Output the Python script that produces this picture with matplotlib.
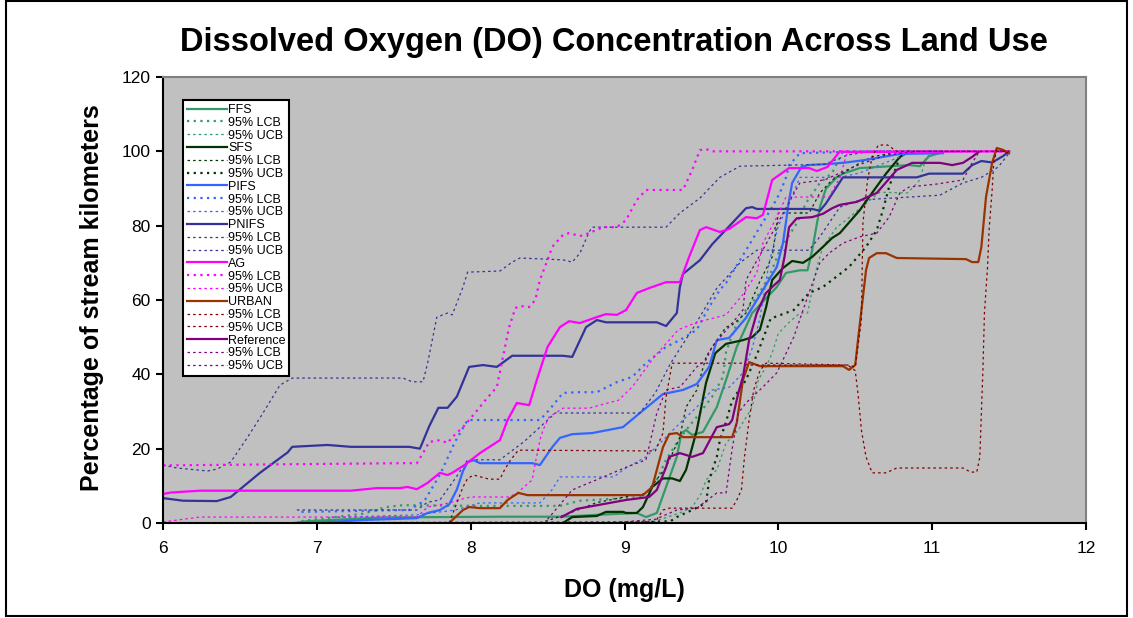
#!/usr/bin/env python3
# -*- coding: utf-8 -*-
"""
Dissolved oxygen cumulative distribution by land use, with 95% bounds.
"""

import matplotlib
matplotlib.use('Agg')
import matplotlib.pyplot as plt
from matplotlib.patches import Rectangle

plt.rcParams['font.family'] = ['Liberation Sans', 'DejaVu Sans']

# ---- data: DO (mg/L) vs percentage of stream kilometers ----
FFS_X = [6.85, 6.94, 7.43, 8.19, 8.60, 8.82, 9.08, 9.14, 9.21, 9.27, 9.34, 9.37, 9.40, 9.44, 9.51, 9.60, 9.66,
         9.73, 9.83, 9.99, 10.05, 10.14, 10.19, 10.22, 10.27, 10.31, 10.38, 10.42, 10.53, 10.85, 10.92, 10.98, 11.07]
FFS_Y = [0, 0.5, 1.5, 1.7, 1.7, 2.2, 2.7, 1.6, 2.7, 9.7, 17.8, 24.2, 25, 23.7, 24.5, 31.2, 38.5,
         47.4, 56.5, 63.5, 67.3, 68, 68, 73.4, 85, 90, 93, 94, 95.5, 96.3, 96, 98.7, 99.8]
FFS_LCB_X = [6.9, 7.3, 7.45, 7.56, 8.06, 8.58, 8.71, 9.14, 9.21, 9.27, 9.34, 9.40, 9.49, 9.57, 9.64, 9.66, 9.73,
             9.79, 9.86, 9.94, 10.01, 10.12, 10.18, 10.27, 10.35, 10.42, 11.07]
FFS_LCB_Y = [0.5, 2.5, 4.3, 4.8, 4.6, 4.6, 6.0, 7.0, 11.6, 17, 21.5, 25, 29.6, 34, 39.3, 46, 53.8,
             57.3, 60.8, 66.2, 73.4, 80.7, 86.1, 91.5, 94.2, 100, 100]
FFS_UCB_X = [8.60, 9.20, 9.36, 9.44, 9.50, 9.53, 9.60, 9.66, 9.74, 9.83, 9.87, 9.92, 9.96, 10.00, 10.07, 10.14,
             10.19, 10.22, 10.25, 10.29, 10.38, 10.44, 10.60, 10.66, 10.84, 10.92, 10.96, 11.05]
FFS_UCB_Y = [0, 0.5, 2.7, 4.3, 8, 11.6, 14.3, 21.5, 25, 31.2, 38.5, 42, 45.7, 51, 54, 56.5,
             56.5, 62.7, 68.9, 74.3, 79.6, 81.5, 87, 89, 88.8, 92.3, 98.5, 100]

SFS_X = [8.60, 8.66, 8.82, 8.88, 8.99, 9.01, 9.08, 9.12, 9.18, 9.25, 9.31, 9.36, 9.40, 9.47, 9.53, 9.59, 9.66,
         9.77, 9.83, 9.88, 9.92, 9.96, 10.03, 10.09, 10.16, 10.22, 10.29, 10.35, 10.40, 10.53, 10.59, 10.70,
         10.79, 10.85]
SFS_Y = [0, 1.6, 1.9, 3, 3, 2.7, 2.7, 4.3, 9.7, 12, 12, 11.3, 14.3, 25, 37.7, 45.7, 48.2,
         49.2, 50, 52, 58, 65.4, 68.6, 70.5, 70, 71.6, 74.3, 76.7, 78, 84.2, 87.7, 94,
         98.5, 100]
SFS_LCB_X = [8.45, 8.60, 8.82, 9.00, 9.14, 9.27, 9.36, 9.40, 9.47, 9.53, 9.57, 9.66, 9.70, 9.79, 9.88, 9.96,
             10.00, 10.20, 10.27, 10.35, 10.53, 10.61, 10.79]
SFS_LCB_Y = [0, 2, 5.5, 7, 8, 15, 23.1, 31.2, 35.8, 44.7, 47.4, 52.7, 53.3, 56.5, 65, 71.6,
             83.4, 83.4, 88.8, 92.3, 96.9, 98.5, 100]
SFS_UCB_X = [9.00, 9.30, 9.34, 9.44, 9.53, 9.55, 9.60, 9.62, 9.66, 9.70, 9.79, 9.86, 9.95, 10.10, 10.20, 10.29,
             10.35, 10.46, 10.57, 10.64, 10.68, 10.72, 10.79, 10.85]
SFS_UCB_Y = [0, 0.5, 1.6, 3.5, 5.4, 11.6, 17.8, 22.3, 27.2, 33, 38.5, 45.2, 55, 57.3, 61.9, 63.5,
             65.4, 68.9, 74.3, 78.8, 84.2, 90.4, 98.5, 100]

PIFS_X = [6.9, 7.1, 7.3, 7.65, 7.72, 7.80, 7.86, 7.91, 7.95, 7.98, 8.02, 8.06, 8.40, 8.45, 8.53, 8.58, 8.66,
          8.79, 8.99, 9.10, 9.25, 9.38, 9.47, 9.55, 9.60, 9.68, 9.79, 9.90, 9.99, 10.03, 10.07, 10.09, 10.15,
          10.19, 10.33, 10.44, 10.57, 10.79, 11.07]
PIFS_Y = [0, 0.3, 0.8, 1.3, 2.7, 3.5, 5.0, 9.0, 14.0, 16.4, 16.9, 16.1, 16.1, 15.6, 20.4, 22.9, 23.9,
          24.2, 25.8, 29.6, 34.7, 35.8, 37.4, 42, 49.2, 49.8, 55.2, 62.7, 68.9, 75.3, 86.9, 91.5, 95.8,
          96.3, 96.6, 97, 97.7, 99.3, 99.5]
PIFS_LCB_X = [6.9, 7.6, 7.7, 7.8, 7.9, 7.98, 8.45, 8.51, 8.60, 8.71, 8.82, 8.95, 9.05, 9.14, 9.27, 9.36, 9.47,
              9.55, 9.62, 9.66, 9.79, 9.88, 9.96, 10.01, 10.05, 10.07, 10.14, 10.6, 11.07]
PIFS_LCB_Y = [3, 3.5, 6, 13, 22, 27.7, 27.7, 30.4, 35, 35.2, 35.2, 37.9, 39.3, 43, 47.4, 49.2, 52,
              58.1, 62.7, 64.6, 73.4, 79.6, 85, 88.8, 93, 96.3, 99.5, 100, 100]
PIFS_UCB_X = [7.1, 7.65, 7.9, 8.06, 8.45, 8.53, 8.58, 8.93, 9.01, 9.14, 9.27, 9.38, 9.47, 9.57, 9.68, 9.77,
              9.83, 9.88, 9.94, 10.00, 10.05, 10.14, 10.40, 10.53, 10.70, 10.85, 11.07]
PIFS_UCB_Y = [1.5, 2.2, 3.5, 5.4, 5.4, 9, 12.4, 12.4, 14.8, 17.8, 23.1, 27.7, 31.2, 35.8, 36.5, 40.4,
              47, 55, 70, 80, 84.2, 93, 93, 94.2, 97, 99.5, 100]

PNIFS_X = [6.0, 6.13, 6.35, 6.44, 6.63, 6.81, 6.84, 7.07, 7.22, 7.60, 7.67, 7.73, 7.79, 7.85, 7.91, 7.99,
           8.08, 8.17, 8.27, 8.60, 8.66, 8.75, 8.82, 8.88, 9.21, 9.27, 9.34, 9.36, 9.38, 9.49, 9.57, 9.70,
           9.79, 9.83, 9.86, 10.22, 10.27, 10.31, 10.42, 10.90, 10.98, 11.20, 11.26, 11.32, 11.39, 11.46, 11.50]
PNIFS_Y = [6.7, 6.0, 5.9, 7.0, 13.5, 19, 20.5, 21, 20.5, 20.5, 20, 26, 31, 31, 34, 42,
           42.5, 42, 45, 45, 44.7, 52.7, 54.6, 54, 54, 53, 56.5, 63.5, 67, 70.7, 75, 80.7,
           84.7, 85, 84.5, 84.5, 84, 86, 93, 93, 94, 94, 96.3, 97.4, 97, 98.7, 100]
PNIFS_LCB_X = [6.0, 6.09, 6.29, 6.35, 6.44, 6.55, 6.65, 6.76, 6.84, 7.56, 7.62, 7.69, 7.72, 7.78, 7.85, 7.88,
               7.95, 7.98, 8.19, 8.27, 8.32, 8.60, 8.66, 8.71, 8.77, 8.79, 9.27, 9.36, 9.49, 9.62, 9.75,
               10.30, 10.45, 10.60, 11.50]
PNIFS_LCB_Y = [15.6, 14.8, 14, 14.5, 16.4, 23.1, 29.6, 37.1, 39, 39, 38, 38, 43, 55.4, 56.5, 56,
               63.5, 67.5, 67.8, 70.2, 71.3, 70.8, 70.2, 72.6, 78.3, 79.6, 79.6, 83.4, 87.4, 93, 96,
               96.5, 99, 100, 100]
PNIFS_UCB_X = [6.87, 7.65, 7.72, 7.80, 7.90, 7.98, 8.19, 8.35, 8.55, 9.10, 9.20, 9.30, 9.45, 9.60, 9.75,
               9.86, 10.20, 10.27, 10.40, 10.53, 11.05, 11.20, 11.32, 11.43, 11.50]
PNIFS_UCB_Y = [3.5, 3.5, 5.6, 6.2, 12, 17, 17, 22, 29.6, 29.6, 35, 43, 52.7, 63.2, 70,
               73.4, 73.4, 77, 85, 86.9, 88.2, 91.5, 93, 95.8, 99.5]

AG_X = [6.0, 6.05, 6.24, 7.22, 7.39, 7.54, 7.59, 7.65, 7.72, 7.80, 7.85, 7.88, 7.96, 8.06, 8.19, 8.24,
        8.30, 8.38, 8.43, 8.50, 8.58, 8.64, 8.71, 8.82, 8.88, 8.95, 9.01, 9.08, 9.16, 9.27, 9.36, 9.42,
        9.49, 9.53, 9.62, 9.68, 9.79, 9.86, 9.90, 9.96, 10.07, 10.20, 10.25, 10.32, 10.40, 10.46, 11.50]
AG_Y = [7.8, 8.2, 8.7, 8.7, 9.4, 9.4, 9.7, 9.1, 10.8, 13.5, 12.9, 13.5, 15.6, 18.8, 22.3, 27.7,
        32.3, 31.7, 38.5, 47.4, 52.7, 54.3, 53.8, 55.4, 56.2, 56, 57.3, 61.9, 63.2, 64.8, 64.8, 71.6,
        78.8, 79.6, 78.3, 79.1, 82.3, 82, 82.9, 92.3, 95.5, 95.5, 94.7, 95.8, 100, 99.8, 100]
AG_LCB_X = [6.0, 7.56, 7.65, 7.69, 7.73, 7.80, 7.85, 7.88, 7.95, 7.99, 8.06, 8.08, 8.17, 8.21, 8.25, 8.29,
            8.32, 8.38, 8.42, 8.45, 8.50, 8.53, 8.60, 8.64, 8.71, 8.77, 8.86, 8.95, 9.01, 9.08, 9.14, 9.29,
            9.38, 9.44, 9.49, 9.53, 9.57, 11.50]
AG_LCB_Y = [15.5, 16.1, 16.1, 18.8, 21.8, 22.3, 21.5, 23.1, 25.8, 27.7, 31.2, 32.3, 36.6, 44.7, 52.7, 57.8,
            58.4, 58.1, 60, 65.4, 70.8, 74.3, 77.5, 78, 77.2, 78, 79.6, 79.6, 81.5, 86.9, 89.6, 89.6,
            89.6, 95, 100.3, 100.6, 100, 100]
AG_UCB_X = [6.0, 6.24, 7.65, 7.72, 7.86, 7.92, 8.00, 8.25, 8.30, 8.40, 8.42, 8.45, 8.47, 8.51, 8.60, 8.77,
            8.84, 8.92, 8.96, 9.05, 9.20, 9.35, 9.47, 9.66, 9.78, 9.86, 9.90, 9.99, 10.05, 10.33, 10.40,
            10.45, 11.50]
AG_UCB_Y = [0.3, 1.6, 1.6, 4.3, 5.4, 6.2, 7.0, 7.0, 8, 11.6, 16.1, 22.3, 25, 28.5, 30.9, 30.9,
            31.7, 32.6, 33, 36.6, 45, 52, 54, 56, 62, 67.3, 75.3, 82.3, 87.7, 87.7, 93,
            100, 100]

URBAN_X = [7.86, 7.95, 7.99, 8.06, 8.19, 8.24, 8.31, 8.37, 9.12, 9.18, 9.25, 9.29, 9.34, 9.38, 9.70, 9.73,
           9.77, 9.81, 9.88, 10.42, 10.46, 10.50, 10.52, 10.57, 10.59, 10.64, 10.70, 10.77, 11.22, 11.26,
           11.30, 11.32, 11.35, 11.39, 11.42, 11.46, 11.50]
URBAN_Y = [0, 3.5, 4.3, 4, 4, 6.2, 8.1, 7.5, 7.5, 9.7, 20.4, 23.9, 24.2, 23.1, 23.1, 27,
           38.5, 43.3, 42.2, 42.2, 41.2, 42.5, 50, 68, 71.3, 72.6, 72.6, 71.3, 71, 70.2,
           70.2, 74.3, 87.7, 96.9, 100.9, 100.4, 99.5]
URBAN_LCB_X = [7.86, 7.95, 7.98, 8.02, 8.12, 8.19, 8.22, 8.26, 8.31, 9.14, 9.20, 9.25, 9.27, 9.31, 9.76, 9.81,
               10.45, 10.50, 10.54, 10.55, 10.58, 10.61, 10.65, 10.71, 10.77, 11.50]
URBAN_LCB_Y = [0, 9.7, 12, 12.9, 11.8, 11.8, 14.3, 17, 19.6, 19.4, 19.4, 24.2, 33.9, 43, 43, 42.5,
               42.5, 42, 54.6, 80.7, 92.3, 98.5, 101.7, 101.7, 100, 100]
URBAN_UCB_X = [6.0, 9.20, 9.25, 9.29, 9.70, 9.73, 9.76, 9.78, 9.81, 9.84, 9.88, 9.92, 10.45, 10.50, 10.52,
               10.54, 10.57, 10.61, 10.70, 10.77, 11.20, 11.25, 11.29, 11.31, 11.32, 11.33, 11.34, 11.36,
               11.37, 11.39, 11.40, 11.42, 11.50]
URBAN_UCB_Y = [0, 0.3, 3.5, 4, 4, 6.2, 8.9, 17.8, 27.7, 35.8, 41, 43, 42.5, 41, 34,
               25, 17.8, 13.5, 13.5, 14.8, 14.8, 13.7, 13.7, 17.8, 29.6, 41.2, 56.5, 68.9,
               78.8, 89.6, 96.9, 100.4, 99.5]

REF_X = [8.59, 8.69, 9.01, 9.16, 9.21, 9.27, 9.29, 9.36, 9.44, 9.51, 9.60, 9.68, 9.70, 9.74, 9.77, 9.81,
         9.86, 9.92, 9.96, 10.01, 10.04, 10.07, 10.12, 10.22, 10.29, 10.35, 10.40, 10.51, 10.64, 10.77,
         10.87, 11.05, 11.13, 11.20, 11.26, 11.30]
REF_Y = [1.6, 3.8, 6.2, 7.0, 8.9, 15, 17.8, 18.8, 17.8, 18.8, 25.8, 26.6, 27.7, 35, 39.3, 49.2,
         56.5, 61.9, 63.5, 65.4, 71.6, 79.6, 82, 82.3, 83.2, 84.7, 85.6, 86.4, 88.8, 95,
         96.9, 96.9, 96.3, 96.9, 98.5, 99.8]
REF_LCB_X = [8.50, 8.66, 8.84, 9.01, 9.14, 9.21, 9.27, 9.36, 9.40, 9.47, 9.53, 9.57, 9.70, 9.77, 9.79, 9.96,
             10.14, 10.30, 10.50, 10.70, 10.90, 11.30]
REF_LCB_Y = [1, 8.9, 12, 15, 17, 29.6, 35.8, 36.6, 38.5, 42, 43.9, 47.4, 53.8, 57.3, 65.4, 78,
             91.5, 92.3, 96, 99, 100, 100]
REF_UCB_X = [8.90, 9.20, 9.34, 9.47, 9.60, 9.66, 9.70, 9.74, 9.79, 9.90, 9.99, 10.10, 10.20, 10.27, 10.33,
             10.42, 10.53, 10.64, 10.72, 10.79, 10.85, 11.03, 11.20, 11.26, 11.30]
REF_UCB_Y = [0, 1, 3.5, 4, 8.1, 8.1, 20, 29.6, 32.3, 36.6, 40.4, 50, 62, 70, 72.6,
             75.3, 77, 78, 82.3, 88.8, 90.4, 91.2, 92.3, 96.9, 99.5]

# ---- line styles ----
SOLID = dict(linestyle='-', linewidth=1.6)
HEAVY = dict(linestyle=(0, (1, 2)), linewidth=1.6)
THIN = dict(linestyle=(0, (2, 2.5)), linewidth=0.9)

# (label, x, y, colour, style) in drawing/legend order
series = [
    ('FFS', FFS_X, FFS_Y, '#339966', SOLID),
    ('95% LCB', FFS_LCB_X, FFS_LCB_Y, '#339966', HEAVY),
    ('95% UCB', FFS_UCB_X, FFS_UCB_Y, '#339966', THIN),
    ('SFS', SFS_X, SFS_Y, '#003300', SOLID),
    ('95% LCB', SFS_LCB_X, SFS_LCB_Y, '#003300', THIN),
    ('95% UCB', SFS_UCB_X, SFS_UCB_Y, '#003300', HEAVY),
    ('PIFS', PIFS_X, PIFS_Y, '#3366FF', SOLID),
    ('95% LCB', PIFS_LCB_X, PIFS_LCB_Y, '#3366FF', HEAVY),
    ('95% UCB', PIFS_UCB_X, PIFS_UCB_Y, '#3366FF', THIN),
    ('PNIFS', PNIFS_X, PNIFS_Y, '#333399', SOLID),
    ('95% LCB', PNIFS_LCB_X, PNIFS_LCB_Y, '#333399', THIN),
    ('95% UCB', PNIFS_UCB_X, PNIFS_UCB_Y, '#333399', THIN),
    ('AG', AG_X, AG_Y, '#FF00FF', SOLID),
    ('95% LCB', AG_LCB_X, AG_LCB_Y, '#FF00FF', HEAVY),
    ('95% UCB', AG_UCB_X, AG_UCB_Y, '#FF00FF', THIN),
    ('URBAN', URBAN_X, URBAN_Y, '#993300', SOLID),
    ('95% LCB', URBAN_LCB_X, URBAN_LCB_Y, '#800000', THIN),
    ('95% UCB', URBAN_UCB_X, URBAN_UCB_Y, '#800000', THIN),
    ('Reference', REF_X, REF_Y, '#800080', SOLID),
    ('95% LCB', REF_LCB_X, REF_LCB_Y, '#800080', THIN),
    ('95% UCB', REF_UCB_X, REF_UCB_Y, '#800080', THIN),
]

fig = plt.figure(figsize=(11.33, 6.18), dpi=100)
ax = fig.add_axes([0.1439, 0.1537, 0.8146, 0.7217])
ax.set_facecolor('#C0C0C0')

for label, xs, ys, color, style in series:
    ax.plot(xs, ys, color=color, label=label, **style)

ax.set_xlim(6, 12)
ax.set_ylim(0, 120)
ax.set_xticks(range(6, 13))
ax.set_yticks(range(0, 121, 20))

# Excel-like frame: black axes, grey plot-area border
for side in ('left', 'bottom'):
    ax.spines[side].set_color('black')
    ax.spines[side].set_linewidth(1.5)
for side in ('top', 'right'):
    ax.spines[side].set_color('#808080')
    ax.spines[side].set_linewidth(1.5)
ax.tick_params(direction='out', length=5, width=1.5, labelsize=12.5, colors='black')
ax.tick_params(axis='x', pad=8)
ax.tick_params(axis='y', pad=4)

ax.set_xlabel('DO (mg/L)', fontsize=18, fontweight='bold')
ax.xaxis.set_label_coords(0.5, -0.150)
ax.xaxis.label.set_va('center')
ax.set_ylabel('Percentage of stream kilometers', fontsize=18, fontweight='bold')
ax.yaxis.set_label_coords(-0.077, 0.505)
ax.yaxis.label.set_va('center')

fig.text(0.542, 0.932, 'Dissolved Oxygen (DO) Concentration Across Land Use',
         ha='center', va='center', fontsize=23.5, fontweight='bold')

leg = ax.legend(loc='upper left', bbox_to_anchor=(0.0217, 0.948), borderaxespad=0,
                fontsize=9, labelspacing=0.065, handlelength=3.2, handletextpad=0.1,
                borderpad=0.3, fancybox=False, framealpha=1, edgecolor='black')
leg.get_frame().set_linewidth(1.5)

# outer border around the whole chart
fig.patches.append(Rectangle((0.0053, 0.0032), 0.9894, 0.995, transform=fig.transFigure,
                             fill=False, edgecolor='black', linewidth=1.5))

fig.savefig('out.png', dpi=100)
